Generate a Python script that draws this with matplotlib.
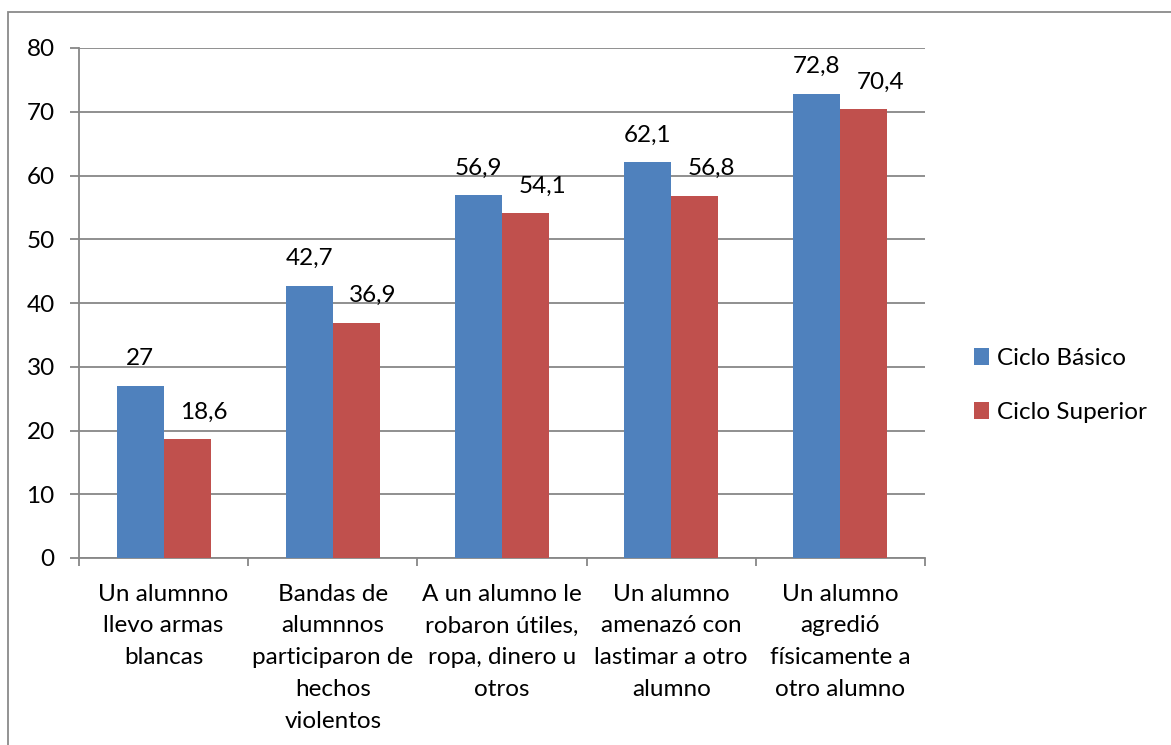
import matplotlib
matplotlib.use("Agg")
import matplotlib.pyplot as plt
from matplotlib.patches import Rectangle
import numpy as np

categories = [
    "Un alumnno\nllevo armas\nblancas",
    "Bandas de\nalumnnos\nparticiparon de\nhechos\nviolentos",
    "A un alumno le\nrobaron útiles,\nropa, dinero u\notros",
    "Un alumno\namenazó con\nlastimar a otro\nalumno",
    "Un alumno\nagredió\nfísicamente a\notro alumno",
]
ciclo_basico = [27, 42.7, 56.9, 62.1, 72.8]
ciclo_superior = [18.6, 36.9, 54.1, 56.8, 70.4]
series_names = ["Ciclo Básico", "Ciclo Superior"]
y_ticks = [0, 10, 20, 30, 40, 50, 60, 70, 80]

plt.rcParams['font.family'] = ['Lato', 'DejaVu Sans']
FS = 17.5
BLUE = "#4F81BD"
RED = "#C0504D"
GRID = "#878787"

W, H = 1171, 745
fig = plt.figure(figsize=(W / 100, H / 100), dpi=100)
ax = fig.add_axes([79 / W, 1 - 558 / H, (925 - 79) / W, (558 - 48) / H])

# outer chart border (extends beyond canvas right/bottom)
fig.patches.append(Rectangle((8 / W, -0.05), 1.2, 1 - 12 / H + 0.05,
                             transform=fig.transFigure, fill=False,
                             edgecolor="#8a8a8a", linewidth=1.3, zorder=0))

x = np.arange(len(categories))
bw = 0.2775
b1 = ax.bar(x - bw / 2, ciclo_basico, bw, color=BLUE, label=series_names[0], zorder=3)
b2 = ax.bar(x + bw / 2, ciclo_superior, bw, color=RED, label=series_names[1], zorder=3)

def fmt(v):
    return f"{v:g}".replace(".", ",")

for rect, v in zip(b1, ciclo_basico):
    ax.annotate(fmt(v), (rect.get_x() + rect.get_width() / 2, v),
                xytext=(0, 19.5), textcoords="offset points",
                ha="center", va="center", fontsize=FS, zorder=5)
for rect, v in zip(b2, ciclo_superior):
    ax.annotate(fmt(v), (rect.get_x() + rect.get_width() / 2, v),
                xytext=(12, 19.5), textcoords="offset points",
                ha="center", va="center", fontsize=FS, zorder=5)

ax.set_xlim(-0.5, len(categories) - 0.5)
ax.set_ylim(0, 80)
ax.set_yticks(y_ticks)
ax.tick_params(axis="y", length=6.5, width=1.3, color=GRID, labelsize=FS, pad=11)
ax.yaxis.grid(True, color=GRID, linewidth=1.3, zorder=0)
ax.set_axisbelow(True)

ax.set_xticks(np.arange(len(categories) + 1) - 0.5)
ax.set_xticklabels([])
ax.tick_params(axis="x", which="major", length=6, width=1.3, color=GRID)
ax.set_xticks(x, minor=True)
ax.set_xticklabels(categories, minor=True, fontsize=FS, linespacing=1.63)
ax.tick_params(axis="x", which="minor", length=0, pad=18.5)

for s in ["top", "right"]:
    ax.spines[s].set_visible(False)
for s in ["left", "bottom"]:
    ax.spines[s].set_color(GRID)
    ax.spines[s].set_linewidth(1.3)

fig.legend(handles=[b1, b2], labels=series_names, loc="center left",
           bbox_to_anchor=(974 / W, 1 - 385.5 / H), frameon=False,
           fontsize=FS, borderpad=0, borderaxespad=0,
           handlelength=0.62, handleheight=0.65, handletextpad=0.33,
           labelspacing=1.36)

fig.savefig("out.png", dpi=100)
